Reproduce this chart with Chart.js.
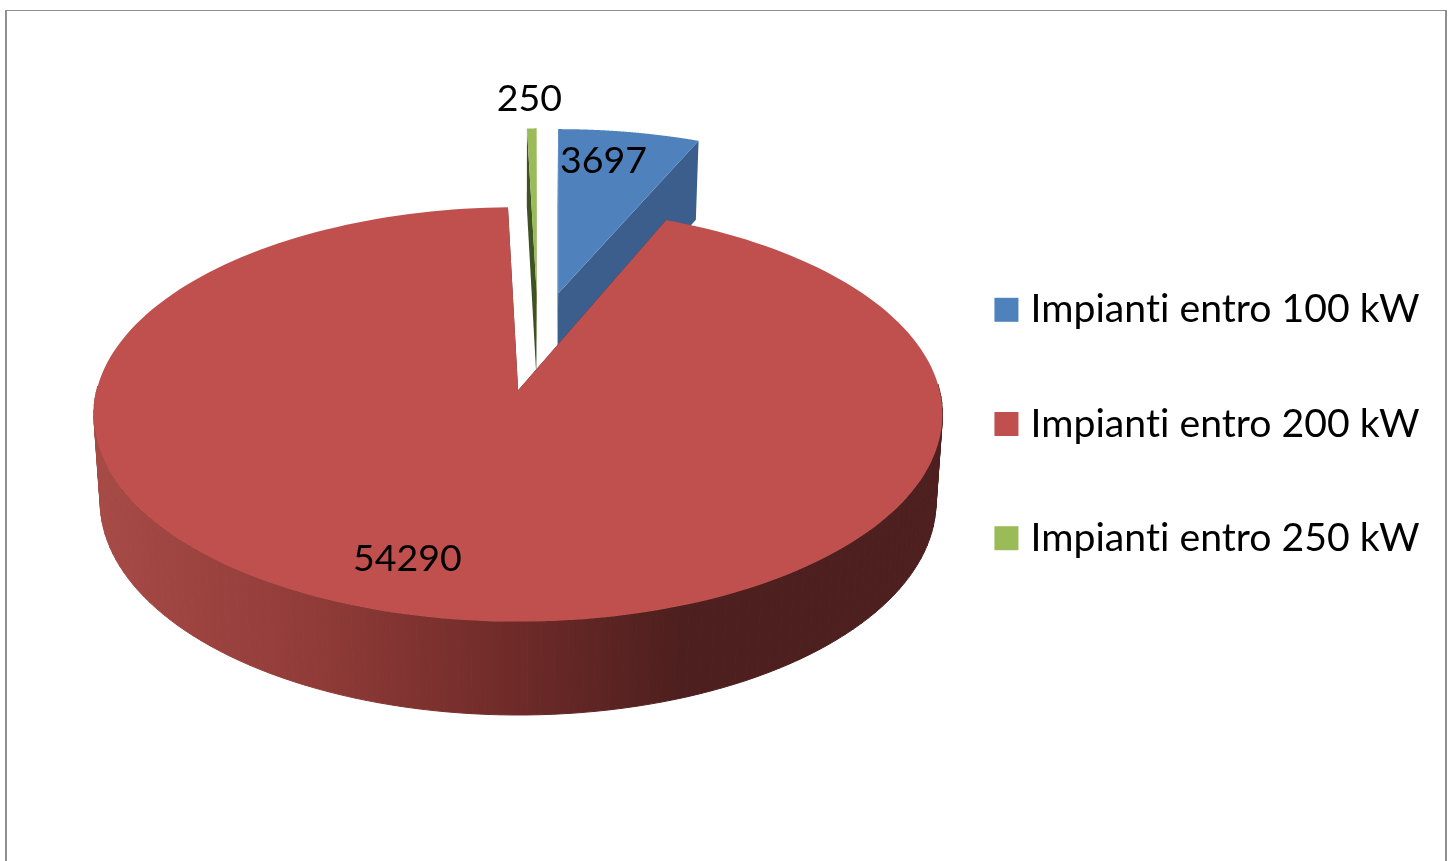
<!DOCTYPE html>
<html>
<head>
<meta charset="utf-8">
<script src="https://cdn.jsdelivr.net/npm/chart.js@4/dist/chart.umd.js"></script>
<style>
  html, body { margin: 0; background: #fff; overflow: hidden; }
  #frame { position: absolute; left: 5px; top: 10px; right: 1px; bottom: -10px;
           border: 2px solid #8f8f8f; border-top-width: 1px; pointer-events: none; }
  canvas { position: absolute; left: 0; top: 0; }
</style>
</head>
<body>
<canvas id="pie3d" width="1448" height="861"></canvas>
<div id="frame"></div>
<script>
const categories = ['Impianti entro 100 kW', 'Impianti entro 200 kW', 'Impianti entro 250 kW'];
const values = [3697, 54290, 250];
const sliceColors = ['#4f81bd', '#c0504d', '#9bbb59'];
const sideColors = ['#3b5e8c', '#4d1f1e', '#3f5222'];
const labelRadius = [0.80, 0.79, 1.205];
const labelTurn = [-2.5, 7, -0.2];

// perspective of the tilted plate, fitted on the reference
const view = { x0: 538, y0: 340.5, a: 409.5, b: 193, k: 0.113, explode: 0.255, steps: 200 };
const FONT = 'Lato, sans-serif';

function project(cx, u, v) {
    const w = 1 - view.k * v;
    return { x: cx + view.a * u / w, y: view.y0 + view.b * v / w };
}

// wall is lower and slightly narrower than the top face
function drop(p) {
    return { x: 518 + (p.x - 518) * 0.985, y: p.y + 79 + 0.03 * (p.y - 141) };
}

function fillPoly(ctx, pts, color, seal) {
    ctx.beginPath();
    pts.forEach((p, i) => i ? ctx.lineTo(p.x, p.y) : ctx.moveTo(p.x, p.y));
    ctx.closePath();
    ctx.fillStyle = color;
    ctx.fill();
    if (seal) {
        ctx.strokeStyle = color;
        ctx.lineWidth = 1;
        ctx.stroke();
    }
}

const tiltedPie = {
    id: 'tiltedPie',
    beforeDraw(chart) {
        // no "ti" ligature, the reference font has none
        chart.ctx.letterSpacing = '0.01px';
    },
    beforeDatasetDraw(chart) {
        const ctx = chart.ctx;
        const arcs = chart.getDatasetMeta(0).data;

        const slices = arcs.map((arc, i) => {
            const mid = (arc.startAngle + arc.endAngle) / 2;
            const ou = view.explode * Math.cos(mid);
            const ov = view.explode * Math.sin(mid);
            const cx = view.x0 + view.a * ou / (1 - view.k * ov);
            const rim = [];
            const front = [];
            for (let s = 0; s <= view.steps; s++) {
                const t = arc.startAngle + (arc.endAngle - arc.startAngle) * s / view.steps;
                const p = project(cx, Math.cos(t), ov + Math.sin(t));
                rim.push(p);
                // the back of the rim has no visible wall
                if (Math.sin(t) > -0.05) front.push(p);
            }
            return { i, mid, ov, cx, rim, front, apex: project(cx, 0, ov) };
        });

        const redWall = ctx.createLinearGradient(101, 0, 680, 0);
        redWall.addColorStop(0, '#a64a46');
        redWall.addColorStop(0.35, '#923c39');
        redWall.addColorStop(0.7, '#702b29');
        redWall.addColorStop(1, '#4d1f1e');

        // back slices first so the big one covers their walls
        slices.slice().sort((p, q) => p.ov - q.ov).forEach(s => {
            const side = s.i === 1 ? redWall : sideColors[s.i];
            const first = s.rim[0], last = s.rim[s.rim.length - 1];
            for (let n = 1; n < s.front.length; n++) {
                const p = s.front[n - 1], q = s.front[n];
                fillPoly(ctx, [p, q, drop(q), drop(p)], side, true);
            }
            fillPoly(ctx, [s.apex, first, drop(first), drop(s.apex)], sideColors[s.i]);
            fillPoly(ctx, [s.apex, last, drop(last), drop(s.apex)], sideColors[s.i]);
            fillPoly(ctx, [s.apex].concat(s.rim), sliceColors[s.i]);
        });

        ctx.save();
        ctx.font = '37.5px ' + FONT;
        ctx.fillStyle = '#000';
        ctx.textAlign = 'center';
        ctx.textBaseline = 'middle';
        slices.forEach(s => {
            const t = s.mid + labelTurn[s.i] * Math.PI / 180;
            const p = project(s.cx, labelRadius[s.i] * Math.cos(t), s.ov + labelRadius[s.i] * Math.sin(t));
            ctx.fillText(String(values[s.i]), p.x, p.y);
        });
        ctx.restore();
        return false;
    }
};

new Chart(document.getElementById('pie3d'), {
    type: 'pie',
    plugins: [tiltedPie],
    data: {
        labels: categories,
        datasets: [{
            data: values,
            backgroundColor: sliceColors,
            borderColor: sliceColors,
            borderWidth: 15
        }]
    },
    options: {
        responsive: false,
        animation: false,
        layout: { padding: { right: 18, bottom: 13 } },
        plugins: {
            tooltip: { enabled: false },
            legend: {
                position: 'right',
                labels: {
                    boxWidth: 9,
                    boxHeight: 9,
                    padding: 75,
                    color: '#000',
                    font: { family: FONT, size: 39.2 }
                }
            }
        }
    }
});
</script>
</body>
</html>
